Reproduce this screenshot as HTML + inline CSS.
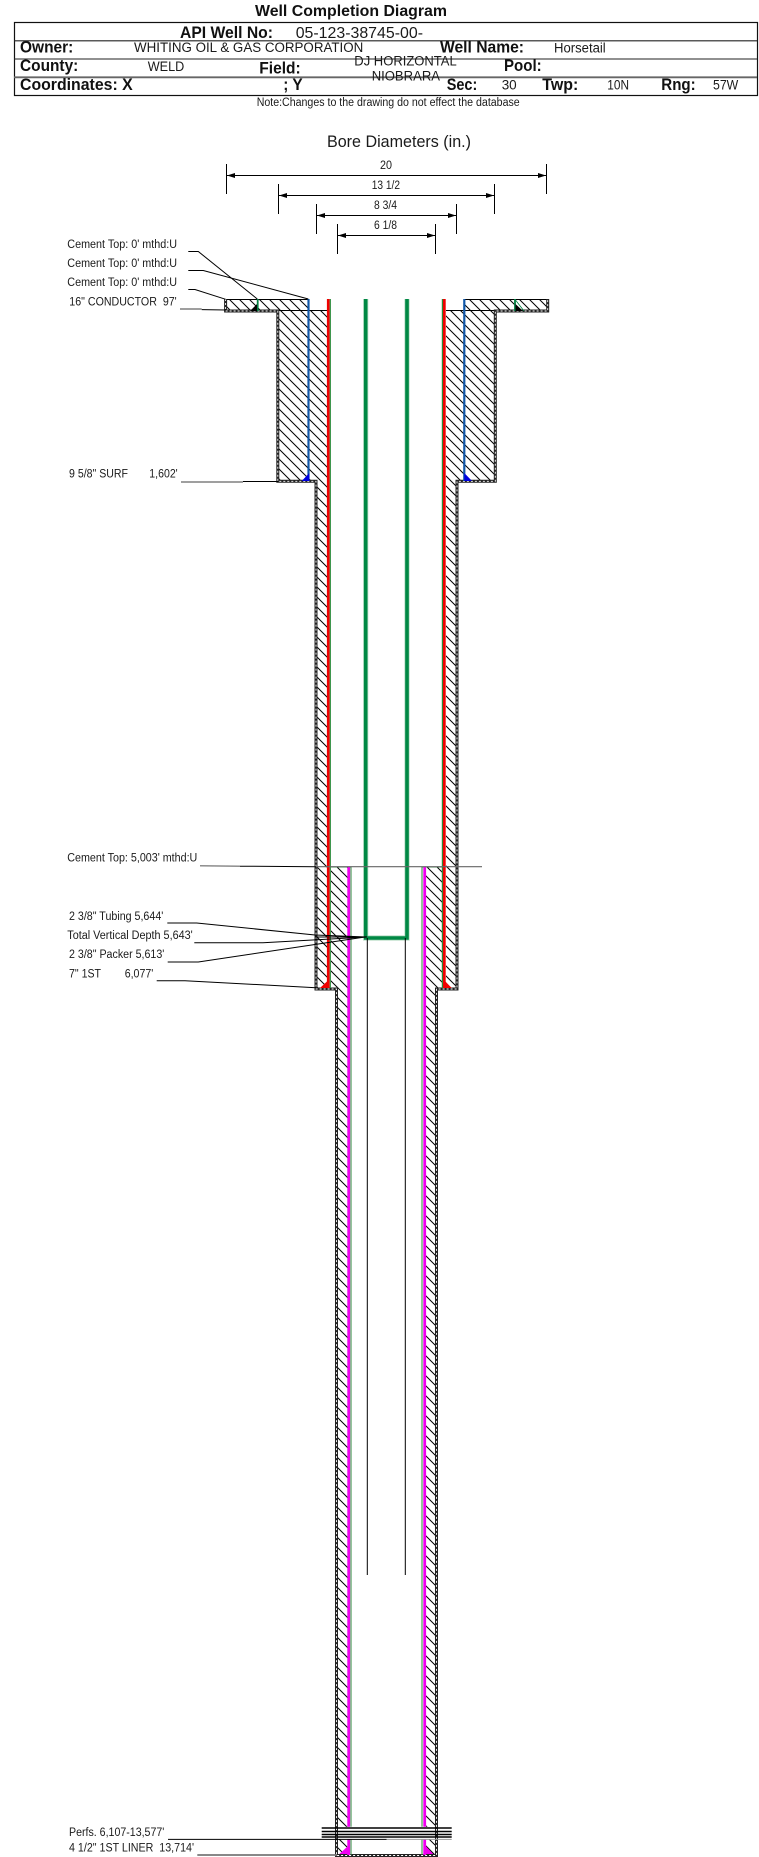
<!DOCTYPE html>
<html><head><meta charset="utf-8"><style>
html,body{margin:0;padding:0;background:#fff}
svg{display:block}
text{font-family:"Liberation Sans",sans-serif;fill:#1a1a1a}
.b{font-weight:bold;fill:#111}
</style></head><body>
<svg width="759" height="1857" viewBox="0 0 759 1857" xmlns="http://www.w3.org/2000/svg">
<defs>
<pattern id="h" patternUnits="userSpaceOnUse" width="10" height="10"><path d="M-1 -1L11 11M-1 9L1 11M9 -1L11 1" stroke="#000" stroke-width="1" fill="none"/></pattern>
</defs>
<rect width="759" height="1857" fill="#fff"/>
<!-- header -->
<text class="b" x="255" y="16" font-size="16" textLength="192" lengthAdjust="spacingAndGlyphs">Well Completion Diagram</text>
<rect x="14.5" y="22.5" width="743" height="73" fill="none" stroke="#111" stroke-width="1.2"/>
<path d="M14 40.8H757M14 59H757" stroke="#222" stroke-width="1.1"/>
<path d="M14 77.3H757" stroke="#666" stroke-width="1.8"/>
<g font-size="17">
<text class="b" x="180" y="38" textLength="93" lengthAdjust="spacingAndGlyphs">API Well No:</text>
<text x="295.7" y="38" font-size="16" textLength="127.3" lengthAdjust="spacingAndGlyphs">05-123-38745-00-</text>
<text class="b" x="20" y="52.5" textLength="53.3" lengthAdjust="spacingAndGlyphs">Owner:</text>
<text class="b" x="440" y="52.5" textLength="84" lengthAdjust="spacingAndGlyphs">Well Name:</text>
<text class="b" x="20" y="71" textLength="58.3" lengthAdjust="spacingAndGlyphs">County:</text>
<text class="b" x="259.3" y="73.3" textLength="41.4" lengthAdjust="spacingAndGlyphs">Field:</text>
<text class="b" x="504" y="70.8" textLength="37.7" lengthAdjust="spacingAndGlyphs">Pool:</text>
<text class="b" x="20" y="90" textLength="112.7" lengthAdjust="spacingAndGlyphs">Coordinates: X</text>
<text class="b" x="283.3" y="90" textLength="19.4" lengthAdjust="spacingAndGlyphs">; Y</text>
<text class="b" x="446.7" y="90" textLength="30.6" lengthAdjust="spacingAndGlyphs">Sec:</text>
<text class="b" x="542.3" y="90" textLength="36" lengthAdjust="spacingAndGlyphs">Twp:</text>
<text class="b" x="661.3" y="90" textLength="34.4" lengthAdjust="spacingAndGlyphs">Rng:</text>
</g>
<g font-size="13.5">
<text x="134" y="52" textLength="229.3" lengthAdjust="spacingAndGlyphs">WHITING OIL &amp; GAS CORPORATION</text>
<text x="554" y="52.6" textLength="51.7" lengthAdjust="spacingAndGlyphs">Horsetail</text>
<text x="147.7" y="70.8" textLength="36.6" lengthAdjust="spacingAndGlyphs">WELD</text>
<text x="354.3" y="65.7" textLength="102.4" lengthAdjust="spacingAndGlyphs">DJ HORIZONTAL</text>
<text x="371.7" y="80.3" textLength="68.3" lengthAdjust="spacingAndGlyphs">NIOBRARA</text>
<text x="501.7" y="89.6" textLength="15" lengthAdjust="spacingAndGlyphs">30</text>
<text x="607.3" y="89.6" textLength="21.7" lengthAdjust="spacingAndGlyphs">10N</text>
<text x="713" y="89.6" textLength="25.3" lengthAdjust="spacingAndGlyphs">57W</text>
</g>
<text x="256.7" y="106" font-size="11.5" textLength="263" lengthAdjust="spacingAndGlyphs">Note:Changes to the drawing do not effect the database</text>

<!-- bore diameters -->
<text x="327" y="147" font-size="17" textLength="144" lengthAdjust="spacingAndGlyphs">Bore Diameters (in.)</text>
<g stroke="#000" stroke-width="1" fill="none">
<path d="M226.5 164V194M546.5 164V194M226.5 175.5H546.5"/>
<path d="M278.5 184V214M494.5 184V214M278.5 195.5H494.5"/>
<path d="M316.5 204V234M456.5 204V234M316.5 215.5H456.5"/>
<path d="M337.5 224V254M435.5 224V254M337.5 235.5H435.5"/>
</g>
<g fill="#000">
<path d="M227 175.5l8 -2.5v5zM546 175.5l-8 -2.5v5z"/>
<path d="M279 195.5l8 -2.5v5zM494 195.5l-8 -2.5v5z"/>
<path d="M317 215.5l8 -2.5v5zM456 215.5l-8 -2.5v5z"/>
<path d="M338 235.5l8 -2.5v5zM435 235.5l-8 -2.5v5z"/>
</g>
<g font-size="11.5">
<text x="380" y="169" textLength="12" lengthAdjust="spacingAndGlyphs">20</text>
<text x="371.7" y="189" textLength="28.3" lengthAdjust="spacingAndGlyphs">13 1/2</text>
<text x="374" y="209" textLength="23" lengthAdjust="spacingAndGlyphs">8 3/4</text>
<text x="374" y="229" textLength="23" lengthAdjust="spacingAndGlyphs">6 1/8</text>
</g>

<!-- hatched cement -->
<g fill="url(#h)">
<rect x="226" y="299.5" width="82" height="11.5"/>
<rect x="278" y="311" width="49.5" height="170"/>
<rect x="316" y="481" width="11.5" height="508"/>
<rect x="331" y="867" width="16.5" height="122"/>
<rect x="337" y="989" width="10.5" height="866"/>
<rect x="465" y="299.5" width="82" height="11.5"/>
<rect x="446" y="311" width="49.5" height="170"/>
<rect x="446" y="481" width="11" height="508"/>
<rect x="426" y="867" width="16" height="122"/>
<rect x="426" y="989" width="10.5" height="866"/>
</g>
<path d="M226 299.5H308M465 299.5H547M278 310.5H327M446 310.5H495" stroke="#000" stroke-width="1.1" fill="none"/>

<!-- perfs gap -->
<rect x="338" y="1826.8" width="97" height="12.7" fill="#fff"/>

<!-- hole outline -->
<path d="M225.6 299V311H277.8V481.3H316V989H336.5V1855.5H436.5V989H457V481.3H495.3V311H547.7V299" fill="none" stroke="#222" stroke-width="3"/>
<path d="M225.6 299V311H277.8V481.3H316V989H336.5V1855.5H436.5V989H457V481.3H495.3V311H547.7V299" fill="none" stroke="#fff" stroke-width="0.9" stroke-dasharray="2 2"/>

<!-- conductor casing -->
<path d="M257.7 299V311M515 299V311" stroke="#008040" stroke-width="1.8"/>
<path d="M250 311H257V304ZM515.5 304V311H523Z" fill="#000"/>
<path d="M515.5 300L524 311" stroke="#008040" stroke-width="0.8"/>
<!-- surface casing -->
<path d="M308.5 299V481M464.3 299V481" stroke="#0f56a8" stroke-width="2.2"/>
<path d="M301.7 481H309.3V473ZM464.3 473V481H472Z" fill="#0000e0"/>
<!-- intermediate casing -->
<path d="M328.3 299V988M444.3 299V988" stroke="#f00000" stroke-width="2.8"/>
<path d="M330.3 299V988M442.4 299V988" stroke="#2a8a3a" stroke-width="1.2"/>
<path d="M320 988H328.5V980ZM444 980V988H451.7Z" fill="#f00000"/>
<!-- tubing -->
<path d="M365.7 299V938H407V299" fill="none" stroke="#b7dcc4" stroke-width="5.2"/>
<path d="M365.7 299V938H407V299" fill="none" stroke="#008844" stroke-width="3.6"/>
<path d="M367.3 938V1575M405.3 938V1575" stroke="#000" stroke-width="1"/>
<!-- liner -->
<path d="M331 867H351V1826.8M351 1839.5V1855M422 867H442M422 867V1826.8M422 1839.5V1855" fill="none" stroke="#2a8a3a" stroke-width="1"/>
<path d="M348.7 867V1826.8M348.7 1839.5V1855M424.7 867V1826.8M424.7 1839.5V1855" stroke="#f000f0" stroke-width="2.8"/>
<path d="M339.3 1854H348V1846ZM425.7 1846V1854H433.3Z" fill="#f000f0"/>

<!-- perf lines -->
<path d="M321.7 1828H451.7M321.7 1831.5H451.7M321.7 1834.5H451.7M321.7 1837H451.7" stroke="#000" stroke-width="1.6"/>
<path d="M168 1839.4H386.7" stroke="#000" stroke-width="1"/>
<path d="M386.7 1839.4H451.7" stroke="#999" stroke-width="1"/>

<!-- leaders -->
<g fill="none" stroke="#000" stroke-width="1">
<path d="M188.3 251.5H198.3L257.3 299"/>
<path d="M188.3 270.5H203.3L308.3 299"/>
<path d="M188.3 289.5H195L225.7 299.3"/>
<path d="M201.7 309.6L226 310"/>
<path d="M243 481.5H278"/>
<path d="M240 866.2L316 866.7"/>
<path d="M167.3 923H196.7L315 935L366.7 937"/>
<path d="M315 937H366.7"/>
<path d="M194.3 942.7H263L366.7 937"/>
<path d="M167.7 962H198.3L366.7 936.7"/>
<path d="M156.7 980.7H185L316 987.7"/>
</g>
<g fill="none" stroke="#666" stroke-width="1.2">
<path d="M180 309H201.7"/>
<path d="M181 482H243"/>
<path d="M200 865.8L240 866.2"/>
<path d="M316 866.7H482"/>
</g>
<path d="M197.3 1855H337" stroke="#777" stroke-width="1.8"/>

<!-- labels -->
<g font-size="11.5">
<text x="67.3" y="248" textLength="109.7" lengthAdjust="spacingAndGlyphs">Cement Top: 0' mthd:U</text>
<text x="67.3" y="267" textLength="109.7" lengthAdjust="spacingAndGlyphs">Cement Top: 0' mthd:U</text>
<text x="67.3" y="286" textLength="109.7" lengthAdjust="spacingAndGlyphs">Cement Top: 0' mthd:U</text>
<text x="69.3" y="305.3" textLength="107.4" lengthAdjust="spacingAndGlyphs" xml:space="preserve">16" CONDUCTOR  97'</text>
<text x="69" y="477.7" textLength="59" lengthAdjust="spacingAndGlyphs">9 5/8" SURF</text>
<text x="149.3" y="477.7" textLength="28.4" lengthAdjust="spacingAndGlyphs">1,602'</text>
<text x="67.3" y="861.7" textLength="130" lengthAdjust="spacingAndGlyphs">Cement Top: 5,003' mthd:U</text>
<text x="69" y="920" textLength="94.3" lengthAdjust="spacingAndGlyphs">2 3/8" Tubing 5,644'</text>
<text x="67.3" y="939" textLength="125.4" lengthAdjust="spacingAndGlyphs">Total Vertical Depth 5,643'</text>
<text x="69" y="958" textLength="95.3" lengthAdjust="spacingAndGlyphs">2 3/8" Packer 5,613'</text>
<text x="69" y="977.3" textLength="32" lengthAdjust="spacingAndGlyphs">7" 1ST</text>
<text x="124.7" y="977.3" textLength="28.6" lengthAdjust="spacingAndGlyphs">6,077'</text>
<text x="69" y="1836" textLength="95.3" lengthAdjust="spacingAndGlyphs">Perfs. 6,107-13,577'</text>
<text x="69" y="1851.3" textLength="125" lengthAdjust="spacingAndGlyphs" xml:space="preserve">4 1/2" 1ST LINER  13,714'</text>
</g>
</svg>
</body></html>
